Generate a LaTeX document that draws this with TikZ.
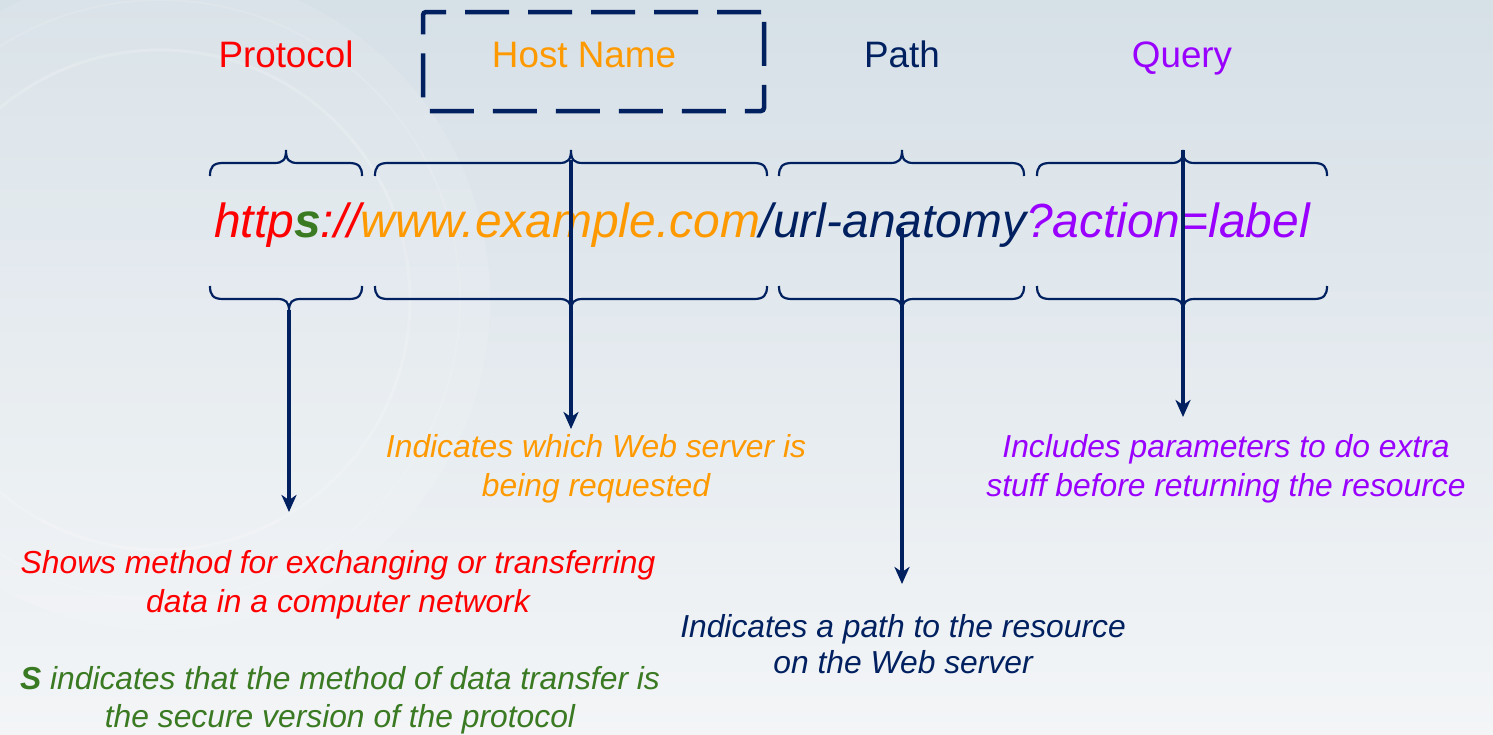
\documentclass[tikz,border=0pt]{standalone}
\usepackage{fontspec}
\setmainfont{Liberation Sans}
\usetikzlibrary{arrows.meta}

\definecolor{navy}{RGB}{0,32,96}
\definecolor{protored}{RGB}{255,0,0}
\definecolor{hostorange}{RGB}{255,153,0}
\definecolor{querypurple}{RGB}{153,0,255}
\definecolor{securegreen}{RGB}{58,122,34}
\definecolor{bgtop}{RGB}{214,224,231}
\definecolor{bgbottom}{RGB}{243,245,247}

% curly brace opening downwards (tip on top) and upwards (tip below)
\newcommand\bracetop[3]{%
  \draw[bracestroke] (#1,176) .. controls (#1,167) and ({#1+3},163) .. ({#1+13},163)
    -- ({#2-12},163) .. controls ({#2-3},163) and (#2,160) .. (#2,150)
    .. controls (#2,160) and ({#2+3},163) .. ({#2+12},163)
    -- ({#3-13},163) .. controls ({#3-3},163) and (#3,167) .. (#3,176);}
\newcommand\bracebottom[3]{%
  \draw[bracestroke] (#1,286) .. controls (#1,295) and ({#1+3},299) .. ({#1+13},299)
    -- ({#2-12},299) .. controls ({#2-3},299) and (#2,302) .. (#2,311)
    .. controls (#2,302) and ({#2+3},299) .. ({#2+12},299)
    -- ({#3-13},299) .. controls ({#3-3},299) and (#3,295) .. (#3,286);}

\begin{document}
\begin{tikzpicture}[x=1pt,y=-1pt,
  bracestroke/.style={draw=navy, line width=2.2pt},
  conn/.style={draw=navy, line width=4pt, -{Stealth[length=17pt,width=15pt,inset=5pt]}},
  hostframe/.style={draw=navy, line width=4.5pt, dash pattern=on 44pt off 19pt,
    rounded corners=3pt, minimum width=341pt, minimum height=99pt, inner sep=0pt},
  partlabel/.style={anchor=base, inner sep=0pt, font=\fontsize{36.8}{44}\selectfont},
  desc/.style={anchor=base, inner sep=0pt, font=\fontsize{31.8}{39}\selectfont\itshape},
  urltext/.style={anchor=base, inner sep=0pt, font=\fontsize{47.9}{57}\selectfont\itshape}]

% background
\useasboundingbox (0,0) rectangle (1493,734);
\shade[top color=bgtop, bottom color=bgbottom] (0,0) rectangle (1493,734);
\fill[white, opacity=0.12] (160,300) circle (330pt);
\draw[white, opacity=0.18, line width=3pt] (160,300) circle (250pt);
\draw[white, opacity=0.12, line width=2pt] (160,300) circle (300pt);

% headings
\node[partlabel, text=protored] (protolbl) at (286,67) {Protocol};
\node[hostframe] (hostbox) at (593.5,61.5) {};
\node[partlabel, text=hostorange] (hostlbl) at (584,67) {Host Name};
\node[partlabel, text=navy] (pathlbl) at (902,67) {Path};
\node[partlabel, text=querypurple] (querylbl) at (1182,67) {Query};

% the address itself
\node[urltext] (url) at (762,237) {\textcolor{protored}{http}\textcolor{securegreen}{\bfseries s}\textcolor{protored}{://}\textcolor{hostorange}{www.example.com}\textcolor{navy}{/url-anatomy}\textcolor{querypurple}{?action=label}};

% braces above and below each part
\bracetop{210}{286}{362}
\bracetop{375}{571}{767}
\bracetop{779}{902}{1024}
\bracetop{1037}{1183}{1327}
\bracebottom{210}{289}{362}
\bracebottom{375}{571}{767}
\bracebottom{779}{902}{1024}
\bracebottom{1037}{1183}{1327}

% arrow ends
\coordinate (protoStart) at (289,310);
\coordinate (protoEnd) at (289,512);
\coordinate (hostStart) at (571,160);
\coordinate (hostEnd) at (571,429);
\coordinate (pathStart) at (902,228);
\coordinate (pathEnd) at (902,584);
\coordinate (queryStart) at (1183,150);
\coordinate (queryEnd) at (1183,417);

\draw[conn] (protoStart) -- (protoEnd);
\draw[conn] (hostStart) -- (hostEnd);
\draw[conn] (pathStart) -- (pathEnd);
\draw[conn] (queryStart) -- (queryEnd);

% explanations
\node[desc, text=hostorange] (hostd1) at (596,457) {Indicates which Web server is};
\node[desc, text=hostorange] (hostd2) at (596,496) {being requested};
\node[desc, text=querypurple] (queryd1) at (1226,457) {Includes parameters to do extra};
\node[desc, text=querypurple] (queryd2) at (1226,496) {stuff before returning the resource};
\node[desc, text=protored] (protod1) at (338,573) {Shows method for exchanging or transferring};
\node[desc, text=protored] (protod2) at (338,612) {data in a computer network};
\node[desc, text=navy] (pathd1) at (903,637) {Indicates a path to the resource};
\node[desc, text=navy] (pathd2) at (903,673) {on the Web server};
\node[desc, text=securegreen] (secd1) at (340,689) {{\bfseries S} indicates that the method of data transfer is};
\node[desc, text=securegreen] (secd2) at (340,727) {the secure version of the protocol};
\end{tikzpicture}
\end{document}
